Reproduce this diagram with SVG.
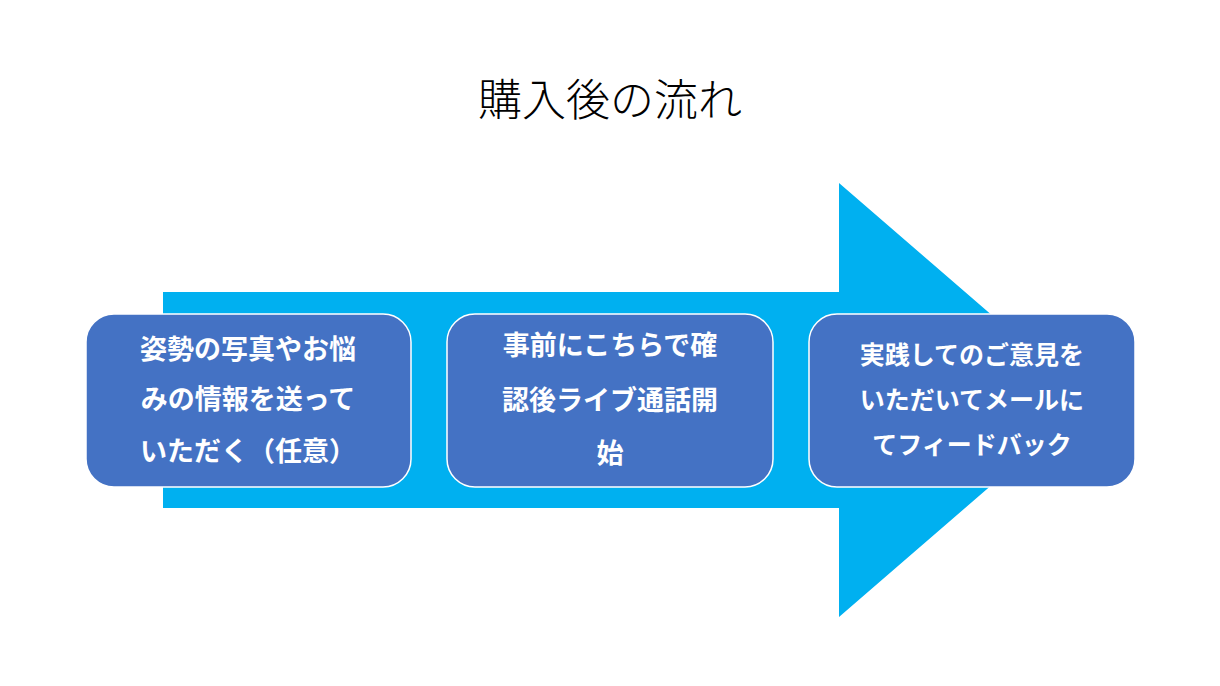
<svg xmlns="http://www.w3.org/2000/svg" width="1220" height="686" viewBox="0 0 1220 686">
<style>
.b{fill:#4472C4;stroke:#fff;stroke-width:1.5}
.t{fill:#fff;font-family:"Noto Sans CJK JP",sans-serif;font-weight:bold;font-size:27px;text-anchor:middle}
.s{font-size:25px}
</style>
<rect width="1220" height="686" fill="#fff"/>
<text x="610" y="116" text-anchor="middle" font-family="Noto Sans CJK JP,sans-serif" font-size="44" font-weight="300" fill="#000">購入後の流れ</text>
<g id="arrow"><polygon points="163,292 839,292 839,183 1090,400 839,617 839,508 163,508" fill="#00B0F0"/></g>
<g id="connectors"></g>
<g id="n1"><rect class="b" x="86" y="314" width="325" height="173" rx="28"/>
<text class="t" x="248" y="359">姿勢の写真やお悩</text>
<text class="t" x="248" y="409">みの情報を送って</text>
<text class="t" x="248" y="461">いただく（任意）</text></g>
<g id="n2"><rect class="b" x="447" y="314" width="326" height="173" rx="28"/>
<text class="t" x="610" y="355">事前にこちらで確</text>
<text class="t" x="610" y="410">認後ライブ通話開</text>
<text class="t" x="610" y="463">始</text></g>
<g id="n3"><rect class="b" x="809" y="314" width="326" height="173" rx="28"/>
<text class="t s" x="972" y="364">実践してのご意見を</text>
<text class="t s" x="972" y="409">いただいてメールに</text>
<text class="t s" x="972" y="454">てフィードバック</text></g>
</svg>
